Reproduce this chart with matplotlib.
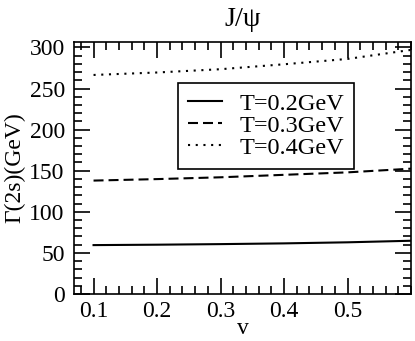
import matplotlib
matplotlib.use("Agg")
import matplotlib.pyplot as plt
from matplotlib.ticker import MultipleLocator, FixedLocator

# valores
v = [0.1, 0.2, 0.3, 0.4, 0.5, 0.6]
gamma_t02 = [59.5, 60.0, 60.7, 61.6, 62.9, 64.8]
gamma_t03 = [138.0, 139.8, 142.0, 145.0, 148.0, 152.5]
gamma_t04 = [266.5, 269.5, 273.5, 279.5, 286.0, 297.0]
rotulos = ["T=0.2GeV", "T=0.3GeV", "T=0.4GeV"]
ticks_x = [0.1, 0.2, 0.3, 0.4, 0.5]

plt.rcParams['font.family'] = ['Liberation Serif', 'DejaVu Serif']
plt.rcParams['font.size'] = 17

fig = plt.figure(figsize=(4.15, 3.41), dpi=100)
ax = fig.add_axes([0.1795, 0.1378, 0.811, 0.740])

ax.plot(v, gamma_t02, color='black', lw=1.5, label=rotulos[0])
ax.plot(v, gamma_t03, color='black', lw=1.5, dashes=(4.8, 2.4), label=rotulos[1])
ax.plot(v, gamma_t04, color='black', lw=1.5, dashes=(1.0, 2.7), label=rotulos[2])

ax.set_xlim(0.07, 0.6)
ax.set_ylim(0, 307)
ax.xaxis.set_major_locator(FixedLocator(ticks_x))
ax.xaxis.set_minor_locator(MultipleLocator(0.02))
ax.yaxis.set_major_locator(MultipleLocator(50))
ax.yaxis.set_minor_locator(MultipleLocator(10))
ax.tick_params(which='both', direction='in', top=True, right=True, width=1.2)
ax.tick_params(which='major', length=11.5)
ax.tick_params(which='minor', length=5.8)
ax.tick_params(axis='x', pad=5)
ax.tick_params(axis='y', pad=7)
for sp in ax.spines.values():
    sp.set_linewidth(1.2)

ax.set_xlabel('v', labelpad=-3)
ax.set_ylabel('Γ(2s)(GeV)', labelpad=3)
ax.set_title('J/ψ', pad=11)

leg = ax.legend(loc='upper left', bbox_to_anchor=(0.3076, 0.836), borderaxespad=0,
                handlelength=1.4, handletextpad=0.72, labelspacing=0.0,
                borderpad=0.4, fancybox=False, framealpha=1, fontsize=17.5)
leg.get_frame().set_edgecolor('black')
leg.get_frame().set_linewidth(1.2)

fig.savefig('out.png', dpi=100)
